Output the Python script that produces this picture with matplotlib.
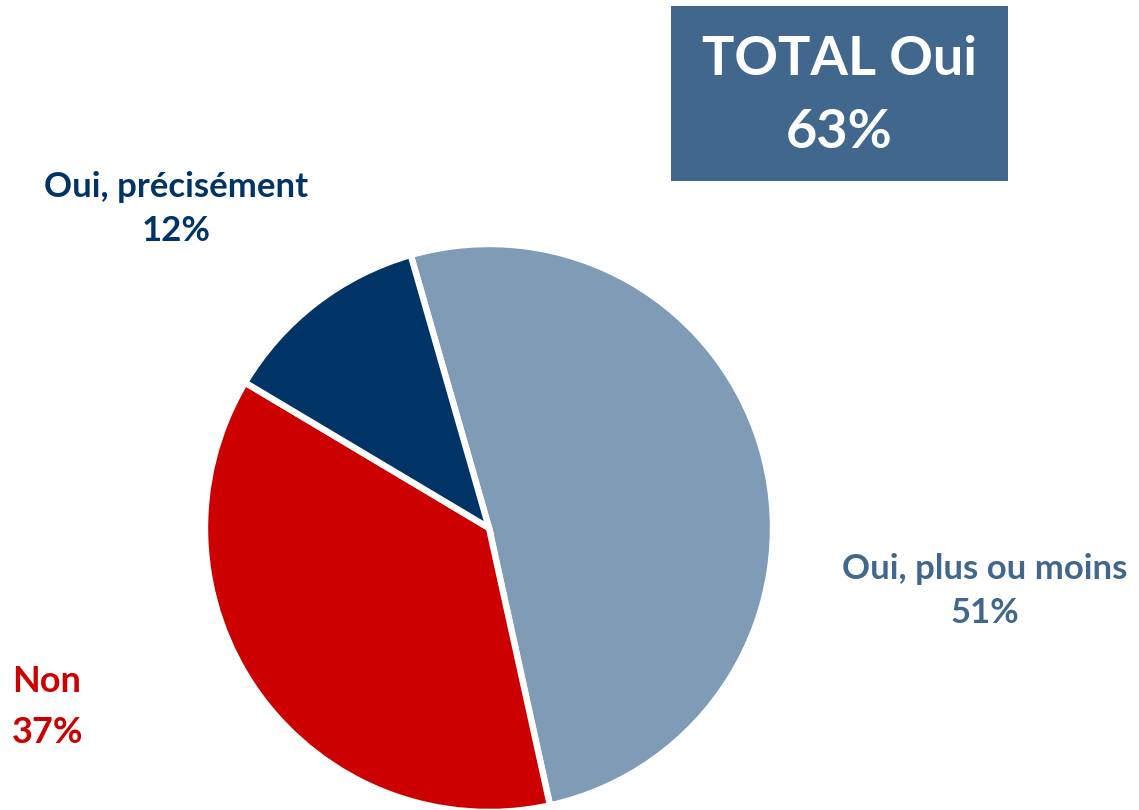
import matplotlib
matplotlib.use("Agg")
import matplotlib.pyplot as plt
from matplotlib.patches import Rectangle

categories = ["Oui, plus ou moins", "Non", "Oui, précisément"]
values = [51, 37, 12]
labels_pct = ["51%", "37%", "12%"]
total_label = "TOTAL Oui"
total_value = "63%"

colors = ["#7F9BB5", "#CC0000", "#003366"]
label_colors = ["#41678D", "#CC0000", "#003366"]

W, H = 1139, 810
fig = plt.figure(figsize=(W / 100, H / 100), dpi=100)
ax = fig.add_axes([0, 0, 1, 1])

plt.rcParams['font.family'] = ['Lato', 'DejaVu Sans']

cx, cy, r = 489, H - 528, 284
ax.pie(values, colors=colors, startangle=106, counterclock=False,
       center=(cx, cy), radius=r, explode=[0.007, 0, 0],
       wedgeprops=dict(edgecolor="white", linewidth=4.6), frame=True)
ax.set_xlim(0, W)
ax.set_ylim(0, H)
ax.set_aspect("auto")
ax.axis("off")

# labels
ax.text(985, H - 591, f"{categories[0]}\n{labels_pct[0]}", ha="center", va="center",
        fontsize=25, fontweight="bold", color=label_colors[0], linespacing=1.43)
ax.text(12, H - 707, f"{categories[1]}\n{labels_pct[1]}", ha="left", va="center",
        fontsize=26, fontweight="bold", color=label_colors[1], linespacing=1.7)
ax.text(176, H - 209, f"{categories[2]}\n{labels_pct[2]}", ha="center", va="center",
        fontsize=25, fontweight="bold", color=label_colors[2], linespacing=1.43)

# total box
ax.add_patch(Rectangle((671, H - 181), 337, 175, facecolor="#41678D", edgecolor="none"))
ax.text(839, H - 96, f"{total_label}\n{total_value}", ha="center", va="center",
        fontsize=39, fontweight="bold", color="white", linespacing=1.62)

fig.savefig("out.png", dpi=100)
